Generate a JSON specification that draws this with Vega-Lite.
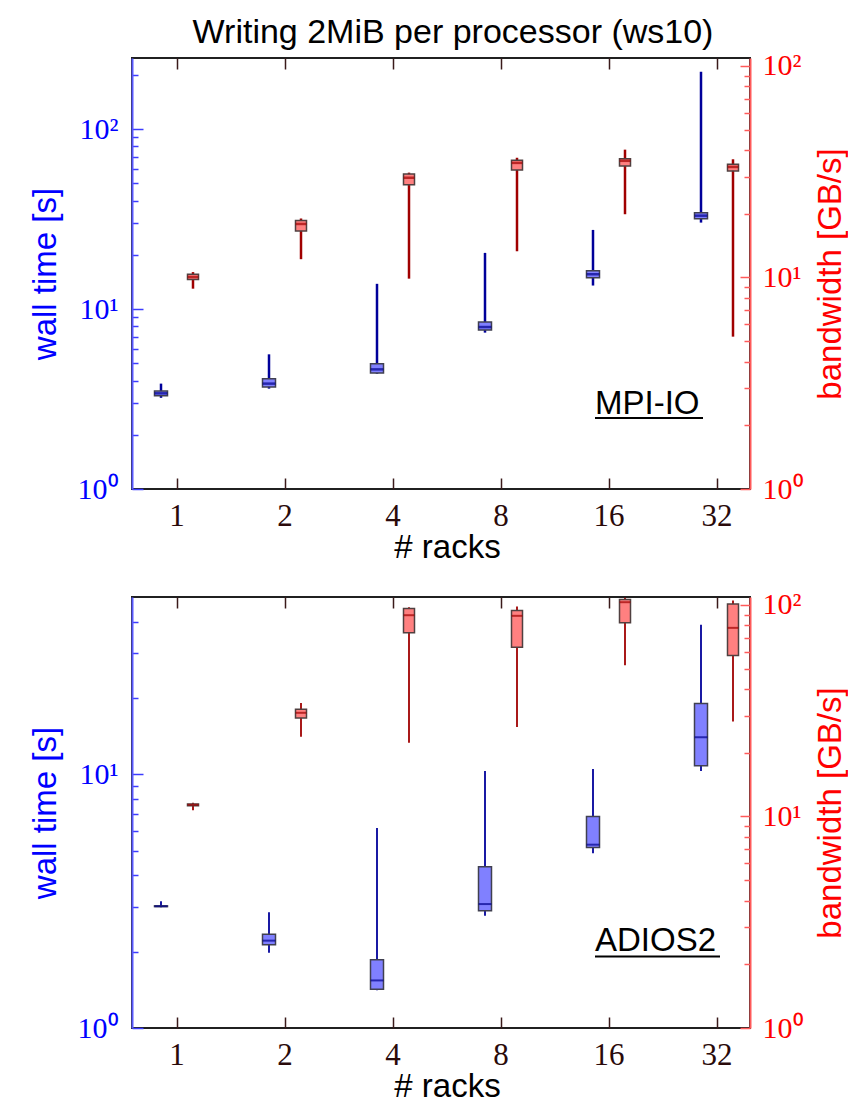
{
  "$schema": "https://vega.github.io/schema/vega-lite/v6.json",
  "padding": {"top": 15, "left": 28, "right": 0, "bottom": 0},
  "title": {"text": "Writing 2MiB per processor (ws10)", "font": "Liberation Sans", "fontSize": 34, "fontWeight": "normal", "color": "black", "anchor": "middle", "offset": 0, "dx": 15},
  "datasets": {
    "boxes": [
      {"panel": "MPI-IO", "metric": "wall", "rack": 1, "min": 3.21, "q1": 3.30, "median": 3.40, "q3": 3.50, "max": 3.85},
      {"panel": "MPI-IO", "metric": "wall", "rack": 2, "min": 3.61, "q1": 3.69, "median": 3.85, "q3": 4.10, "max": 5.6},
      {"panel": "MPI-IO", "metric": "wall", "rack": 4, "min": 4.37, "q1": 4.41, "median": 4.62, "q3": 4.97, "max": 13.8},
      {"panel": "MPI-IO", "metric": "wall", "rack": 8, "min": 7.39, "q1": 7.64, "median": 7.94, "q3": 8.47, "max": 20.5},
      {"panel": "MPI-IO", "metric": "wall", "rack": 16, "min": 13.5, "q1": 14.9, "median": 15.6, "q3": 16.3, "max": 27.5},
      {"panel": "MPI-IO", "metric": "wall", "rack": 32, "min": 30.2, "q1": 31.7, "median": 33.0, "q3": 34.3, "max": 208},
      {"panel": "MPI-IO", "metric": "bw", "rack": 1, "min": 8.85, "q1": 9.77, "median": 10.05, "q3": 10.35, "max": 10.6},
      {"panel": "MPI-IO", "metric": "bw", "rack": 2, "min": 12.2, "q1": 16.6, "median": 17.9, "q3": 18.6, "max": 19.0},
      {"panel": "MPI-IO", "metric": "bw", "rack": 4, "min": 9.87, "q1": 27.4, "median": 29.6, "q3": 30.8, "max": 31.3},
      {"panel": "MPI-IO", "metric": "bw", "rack": 8, "min": 13.3, "q1": 32.2, "median": 34.8, "q3": 35.8, "max": 36.8},
      {"panel": "MPI-IO", "metric": "bw", "rack": 16, "min": 19.9, "q1": 33.6, "median": 35.6, "q3": 36.4, "max": 40.2},
      {"panel": "MPI-IO", "metric": "bw", "rack": 32, "min": 5.25, "q1": 31.9, "median": 33.3, "q3": 34.3, "max": 36.2},
      {"panel": "ADIOS2", "metric": "wall", "rack": 1, "min": 2.99, "q1": 3.01, "median": 3.02, "q3": 3.03, "max": 3.16},
      {"panel": "ADIOS2", "metric": "wall", "rack": 2, "min": 1.98, "q1": 2.13, "median": 2.21, "q3": 2.34, "max": 2.86},
      {"panel": "ADIOS2", "metric": "wall", "rack": 4, "min": 1.41, "q1": 1.42, "median": 1.54, "q3": 1.86, "max": 6.14},
      {"panel": "ADIOS2", "metric": "wall", "rack": 8, "min": 2.77, "q1": 2.90, "median": 3.08, "q3": 4.32, "max": 10.3},
      {"panel": "ADIOS2", "metric": "wall", "rack": 16, "min": 4.89, "q1": 5.15, "median": 5.28, "q3": 6.82, "max": 10.5},
      {"panel": "ADIOS2", "metric": "wall", "rack": 32, "min": 10.3, "q1": 10.8, "median": 14.0, "q3": 19.0, "max": 38.9},
      {"panel": "ADIOS2", "metric": "bw", "rack": 1, "min": 10.7, "q1": 11.25, "median": 11.35, "q3": 11.45, "max": 11.6},
      {"panel": "ADIOS2", "metric": "bw", "rack": 2, "min": 23.8, "q1": 29.2, "median": 30.9, "q3": 32.1, "max": 34.4},
      {"panel": "ADIOS2", "metric": "bw", "rack": 4, "min": 22.3, "q1": 73.8, "median": 89.4, "q3": 96.2, "max": 97.5},
      {"panel": "ADIOS2", "metric": "bw", "rack": 8, "min": 26.5, "q1": 63.1, "median": 88.8, "q3": 94.1, "max": 98.3},
      {"panel": "ADIOS2", "metric": "bw", "rack": 16, "min": 51.9, "q1": 82.3, "median": 103, "q3": 106, "max": 108},
      {"panel": "ADIOS2", "metric": "bw", "rack": 32, "min": 28.1, "q1": 57.7, "median": 77.9, "q3": 101, "max": 105}
    ],
    "labels": [
      {"panel": "MPI-IO", "label": "MPI-IO"},
      {"panel": "ADIOS2", "label": "ADIOS2"}
    ]
  },
  "spacing": 23,
  "vconcat": [
    {
      "width": 618, "height": 431,
      "resolve": {"scale": {"y": "independent"}, "axis": {"x": "independent"}},
      "layer": [
        {
          "layer": [
            {
              "data": {"name": "boxes"},
              "transform": [{"filter": "datum.panel == 'MPI-IO' && datum.metric == 'wall'"}],
              "encoding": {
                "x": {"field": "rack", "type": "ordinal", "scale": {"domain": [1, 2, 4, 8, 16, 32], "range": [-9, 639], "paddingInner": 0, "paddingOuter": 0},
                  "axis": {"orient": "bottom", "title": "# racks", "titleFont": "Liberation Sans", "titleFontSize": 33, "titleFontWeight": "normal", "titleColor": "black", "titlePadding": 0, "labelFont": "Liberation Serif", "labelFontSize": 31, "labelColor": "#2a0a0a", "labelPadding": 23, "labelAngle": 0, "tickSize": -11, "tickColor": "#3a1a1a", "tickWidth": 1.5, "domain": false, "grid": false}},
                "xOffset": {"field": "metric", "scale": {"domain": ["wall", "bw"], "paddingInner": 0, "paddingOuter": 0.6875}},
                "y": {"field": "min", "type": "quantitative", "scale": {"type": "log", "domain": [1, 248], "nice": false},
                  "axis": {"orient": "left", "title": "wall time [s]", "titleColor": "#0000ff", "titleFontSize": 33, "titleFont": "Liberation Sans", "titleFontWeight": "normal", "titleBaseline": "middle", "titleX": -87,
                    "values": [1, 2, 3, 4, 5, 6, 7, 8, 9, 10, 20, 30, 40, 50, 60, 70, 80, 90, 100, 200],
                    "labelExpr": "datum.value == 1 ? '10⁰' : datum.value == 10 ? '10¹' : datum.value == 100 ? '10²' : ''",
                    "labelFont": "Liberation Serif", "labelFontSize": 30, "labelColor": "#0000ff", "labelPadding": 25, "labelOverlap": false, "labelBaseline": "middle",
                    "tickColor": "#3c3cff", "tickWidth": 1.5, "tickSize": {"condition": {"test": "datum.value == 1 || datum.value == 10 || datum.value == 100", "value": -11}, "value": -6},
                    "domainColor": "#5a5aff", "domainWidth": 2, "grid": false}}
              },
              "layer": [
                {"mark": {"type": "rule", "color": "#00009a", "strokeWidth": 2.5}, "encoding": {"y2": {"field": "max"}}},
                {"mark": {"type": "bar", "width": 13, "fill": "#8080ff", "stroke": "#404050", "strokeWidth": 1.5}, "encoding": {"y": {"field": "q1", "type": "quantitative"}, "y2": {"field": "q3"}}},
                {"mark": {"type": "tick", "color": "#00008b", "thickness": 2.5, "size": 13}, "encoding": {"y": {"field": "median", "type": "quantitative"}}}
              ]
            },
            {
              "data": {"name": "labels"},
              "transform": [{"filter": "datum.panel == 'MPI-IO'"}],
              "layer": [
                {"mark": {"type": "text", "align": "left", "baseline": "alphabetic", "dx": -14, "fontSize": 33, "font": "Liberation Sans", "color": "black"},
                  "encoding": {"x": {"datum": 16, "type": "ordinal"}, "y": {"datum": 2.61, "type": "quantitative"}, "text": {"field": "label"}}},
                {"mark": {"type": "rule", "strokeWidth": 2, "color": "black", "xOffset": -14, "x2Offset": -14},
                  "encoding": {"x": {"datum": 16, "type": "ordinal"}, "x2": {"datum": 32}, "y": {"datum": 2.48, "type": "quantitative"}}}
              ]
            }
          ]
        },
        {
          "data": {"name": "boxes"},
          "transform": [{"filter": "datum.panel == 'MPI-IO' && datum.metric == 'bw'"}],
          "encoding": {
            "x": {"field": "rack", "type": "ordinal", "scale": {"domain": [1, 2, 4, 8, 16, 32], "range": [-9, 639], "paddingInner": 0, "paddingOuter": 0},
              "axis": {"orient": "top", "labels": false, "title": null, "tickSize": -11, "tickColor": "#3a1a1a", "tickWidth": 1.5, "domain": false, "grid": false}},
            "xOffset": {"field": "metric", "scale": {"domain": ["wall", "bw"], "paddingInner": 0, "paddingOuter": 0.6875}},
            "y": {"field": "min", "type": "quantitative", "scale": {"type": "log", "domain": [1, 109], "nice": false},
              "axis": {"orient": "right", "title": "bandwidth [GB/s]", "titleAngle": 270, "titleBaseline": "middle", "titleX": 80, "titleColor": "#ff0000", "titleFontSize": 33, "titleFont": "Liberation Sans", "titleFontWeight": "normal",
                "values": [1, 2, 3, 4, 5, 6, 7, 8, 9, 10, 20, 30, 40, 50, 60, 70, 80, 90, 100],
                "labelExpr": "datum.value == 1 ? '10⁰' : datum.value == 10 ? '10¹' : datum.value == 100 ? '10²' : ''",
                "labelFont": "Liberation Serif", "labelFontSize": 30, "labelColor": "#ff0000", "labelPadding": 22, "labelOverlap": false, "labelBaseline": "middle",
                "tickColor": "#ff5a5a", "tickWidth": 1.5, "tickSize": {"condition": {"test": "datum.value == 1 || datum.value == 10 || datum.value == 100", "value": -10}, "value": -6},
                "domainColor": "#ff5a5a", "domainWidth": 2, "grid": false}}
          },
          "layer": [
            {"mark": {"type": "rule", "color": "#a00000", "strokeWidth": 2.5}, "encoding": {"y2": {"field": "max"}}},
            {"mark": {"type": "bar", "width": 11, "fill": "#ff8080", "stroke": "#504040", "strokeWidth": 1.5}, "encoding": {"y": {"field": "q1", "type": "quantitative"}, "y2": {"field": "q3"}}},
            {"mark": {"type": "tick", "color": "#a00000", "thickness": 2.5, "size": 11}, "encoding": {"y": {"field": "median", "type": "quantitative"}}}
          ]
        }
      ]
    },
    {
      "width": 618, "height": 431,
      "resolve": {"scale": {"y": "independent"}, "axis": {"x": "independent"}},
      "layer": [
        {
          "layer": [
            {
              "data": {"name": "boxes"},
              "transform": [{"filter": "datum.panel == 'ADIOS2' && datum.metric == 'wall'"}],
              "encoding": {
                "x": {"field": "rack", "type": "ordinal", "scale": {"domain": [1, 2, 4, 8, 16, 32], "range": [-9, 639], "paddingInner": 0, "paddingOuter": 0},
                  "axis": {"orient": "bottom", "title": "# racks", "titleFont": "Liberation Sans", "titleFontSize": 33, "titleFontWeight": "normal", "titleColor": "black", "titlePadding": 0, "labelFont": "Liberation Serif", "labelFontSize": 31, "labelColor": "#2a0a0a", "labelPadding": 23, "labelAngle": 0, "tickSize": -11, "tickColor": "#3a1a1a", "tickWidth": 1.5, "domain": false, "grid": false}},
                "xOffset": {"field": "metric", "scale": {"domain": ["wall", "bw"], "paddingInner": 0, "paddingOuter": 0.6875}},
                "y": {"field": "min", "type": "quantitative", "scale": {"type": "log", "domain": [1, 50], "nice": false},
                  "axis": {"orient": "left", "title": "wall time [s]", "titleColor": "#0000ff", "titleFontSize": 33, "titleFont": "Liberation Sans", "titleFontWeight": "normal", "titleBaseline": "middle", "titleX": -87,
                    "values": [1, 2, 3, 4, 5, 6, 7, 8, 9, 10, 20, 30, 40],
                    "labelExpr": "datum.value == 1 ? '10⁰' : datum.value == 10 ? '10¹' : datum.value == 100 ? '10²' : ''",
                    "labelFont": "Liberation Serif", "labelFontSize": 30, "labelColor": "#0000ff", "labelPadding": 25, "labelOverlap": false, "labelBaseline": "middle",
                    "tickColor": "#3c3cff", "tickWidth": 1.5, "tickSize": {"condition": {"test": "datum.value == 1 || datum.value == 10 || datum.value == 100", "value": -11}, "value": -6},
                    "domainColor": "#5a5aff", "domainWidth": 2, "grid": false}}
              },
              "layer": [
                {"mark": {"type": "rule", "color": "#00009a", "strokeWidth": 1.8}, "encoding": {"y2": {"field": "max"}}},
                {"mark": {"type": "bar", "width": 13, "fill": "#8080ff", "stroke": "#404050", "strokeWidth": 1.5}, "encoding": {"y": {"field": "q1", "type": "quantitative"}, "y2": {"field": "q3"}}},
                {"mark": {"type": "tick", "color": "#00008b", "thickness": 2, "size": 13}, "encoding": {"y": {"field": "median", "type": "quantitative"}}}
              ]
            },
            {
              "data": {"name": "labels"},
              "transform": [{"filter": "datum.panel == 'ADIOS2'"}],
              "layer": [
                {"mark": {"type": "text", "align": "left", "baseline": "alphabetic", "dx": -14, "fontSize": 33, "font": "Liberation Sans", "color": "black"},
                  "encoding": {"x": {"datum": 16, "type": "ordinal"}, "y": {"datum": 2.02, "type": "quantitative"}, "text": {"field": "label"}}},
                {"mark": {"type": "rule", "strokeWidth": 2, "color": "black", "xOffset": -14, "x2Offset": 3},
                  "encoding": {"x": {"datum": 16, "type": "ordinal"}, "x2": {"datum": 32}, "y": {"datum": 1.914, "type": "quantitative"}}}
              ]
            }
          ]
        },
        {
          "data": {"name": "boxes"},
          "transform": [{"filter": "datum.panel == 'ADIOS2' && datum.metric == 'bw'"}],
          "encoding": {
            "x": {"field": "rack", "type": "ordinal", "scale": {"domain": [1, 2, 4, 8, 16, 32], "range": [-9, 639], "paddingInner": 0, "paddingOuter": 0},
              "axis": {"orient": "top", "labels": false, "title": null, "tickSize": -11, "tickColor": "#3a1a1a", "tickWidth": 1.5, "domain": false, "grid": false}},
            "xOffset": {"field": "metric", "scale": {"domain": ["wall", "bw"], "paddingInner": 0, "paddingOuter": 0.6875}},
            "y": {"field": "min", "type": "quantitative", "scale": {"type": "log", "domain": [1, 109], "nice": false},
              "axis": {"orient": "right", "title": "bandwidth [GB/s]", "titleAngle": 270, "titleBaseline": "middle", "titleX": 80, "titleColor": "#ff0000", "titleFontSize": 33, "titleFont": "Liberation Sans", "titleFontWeight": "normal",
                "values": [1, 2, 3, 4, 5, 6, 7, 8, 9, 10, 20, 30, 40, 50, 60, 70, 80, 90, 100],
                "labelExpr": "datum.value == 1 ? '10⁰' : datum.value == 10 ? '10¹' : datum.value == 100 ? '10²' : ''",
                "labelFont": "Liberation Serif", "labelFontSize": 30, "labelColor": "#ff0000", "labelPadding": 22, "labelOverlap": false, "labelBaseline": "middle",
                "tickColor": "#ff5a5a", "tickWidth": 1.5, "tickSize": {"condition": {"test": "datum.value == 1 || datum.value == 10 || datum.value == 100", "value": -10}, "value": -6},
                "domainColor": "#ff5a5a", "domainWidth": 2, "grid": false}}
          },
          "layer": [
            {"mark": {"type": "rule", "color": "#a00000", "strokeWidth": 1.8}, "encoding": {"y2": {"field": "max"}}},
            {"mark": {"type": "bar", "width": 11, "fill": "#ff8080", "stroke": "#504040", "strokeWidth": 1.5}, "encoding": {"y": {"field": "q1", "type": "quantitative"}, "y2": {"field": "q3"}}},
            {"mark": {"type": "tick", "color": "#a00000", "thickness": 2, "size": 11}, "encoding": {"y": {"field": "median", "type": "quantitative"}}}
          ]
        }
      ]
    }
  ],
  "config": {
    "view": {"stroke": "#202020", "strokeWidth": 2},
    "background": "white"
  }
}
